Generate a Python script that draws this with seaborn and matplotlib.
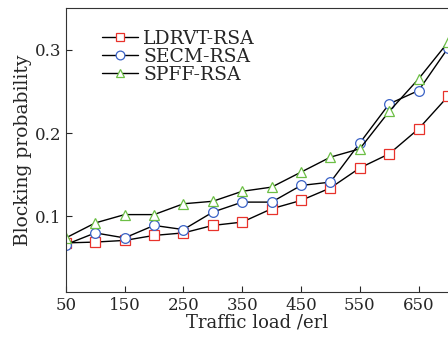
import pandas as pd
import seaborn as sns
import matplotlib.pyplot as plt

# Traffic load (erl) and blocking probability of each scheme
traffic = [50, 100, 150, 200, 250, 300, 350, 400, 450, 500, 550, 600, 650, 700]
ldrvt = [0.068, 0.069, 0.071, 0.077, 0.080, 0.089, 0.093, 0.109, 0.119, 0.134, 0.158, 0.175, 0.205, 0.244]
secm = [0.066, 0.080, 0.074, 0.089, 0.084, 0.105, 0.117, 0.117, 0.137, 0.141, 0.188, 0.235, 0.251, 0.302]
spff = [0.074, 0.092, 0.102, 0.102, 0.115, 0.118, 0.130, 0.135, 0.153, 0.171, 0.181, 0.226, 0.265, 0.309]
names = ["LDRVT-RSA", "SECM-RSA", "SPFF-RSA"]
colors = ["#e8322b", "#3a62c6", "#6cbf45"]
markers = ["s", "o", "^"]

df = pd.DataFrame({"traffic": traffic, names[0]: ldrvt, names[1]: secm, names[2]: spff})

sns.set_style("ticks")
plt.rcParams["font.family"] = ["DejaVu Serif"]

fig = plt.figure(figsize=(4.48, 3.38), dpi=100)
ax = fig.add_axes([0.147, 0.136, 0.853, 0.84])

for name, c, m in zip(names, colors, markers):
    sns.lineplot(data=df, x="traffic", y=name, ax=ax, color="black", lw=1.0,
                 marker=m, markersize=7, markerfacecolor="white",
                 markeredgecolor=c, markeredgewidth=0.9, label=name)

ax.set_xlim(50, 700)
ax.set_ylim(0.009, 0.35)
ax.set_xticks([50, 150, 250, 350, 450, 550, 650])
ax.set_yticks([0.1, 0.2, 0.3])
ax.set_yticklabels(["0.1", "0.2", "0.3"])
ax.tick_params(direction="in", length=4, width=0.8, labelsize=12, top=False, right=False)
ax.set_xlabel("Traffic load /erl", fontsize=13, labelpad=0)
ax.set_ylabel("Blocking probability", fontsize=13.5, labelpad=2)
ax.spines["right"].set_visible(False)
for s in ["left", "top", "bottom"]:
    ax.spines[s].set_linewidth(0.8)
    ax.spines[s].set_color("#333333")

ax.legend(loc="upper left", frameon=False, fontsize=13.5, handlelength=1.9,
          handletextpad=0.3, labelspacing=0.0, borderaxespad=0.3,
          bbox_to_anchor=(0.06, 0.97), markerscale=0.9)

fig.savefig("out.png", dpi=100)
